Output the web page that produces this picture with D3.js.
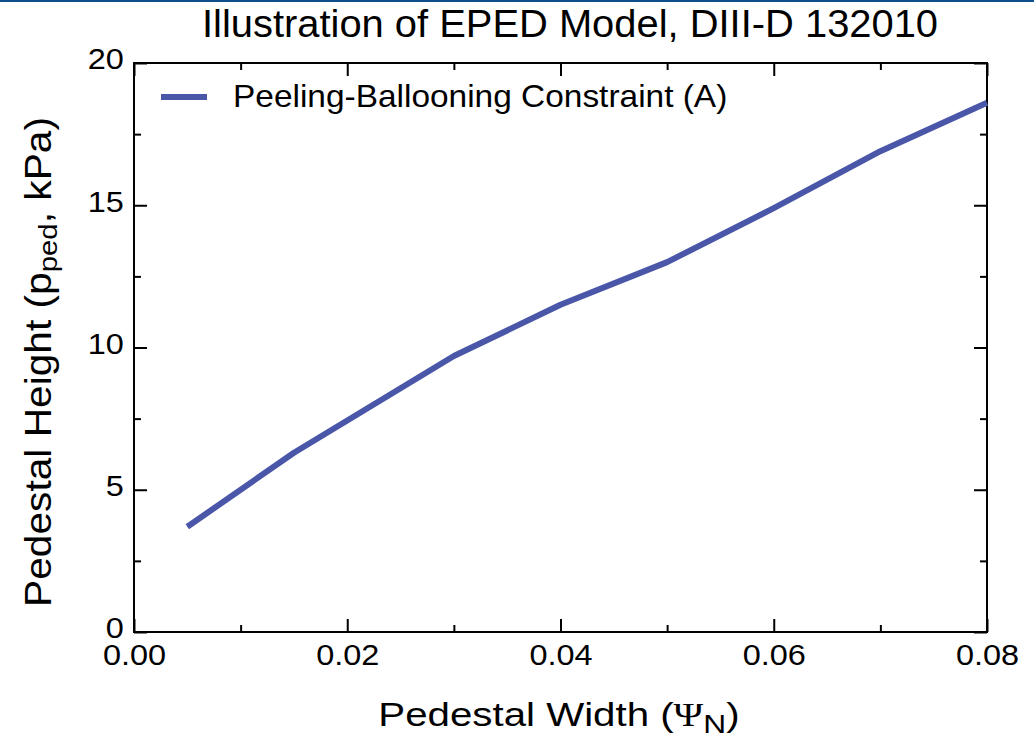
<!DOCTYPE html>
<html>
<head>
<meta charset="utf-8">
<script src="https://cdn.jsdelivr.net/npm/d3@7"></script>
<style>
  html, body { margin: 0; padding: 0; background: #fff; }
  svg { display: block; font-family: "Liberation Sans", Arial, Helvetica, sans-serif; }
</style>
</head>
<body>
<div id="chart"></div>
<script>
// pedestal width (psi_N) and peeling-ballooning pedestal height (kPa)
const widths = [0.005, 0.015, 0.03, 0.04, 0.05, 0.06, 0.07, 0.08];
const heights = [3.7, 6.3, 9.7, 11.5, 13.0, 14.9, 16.9, 18.6];
const xTicks = [0.00, 0.02, 0.04, 0.06, 0.08];
const xMinor = [0.01, 0.03, 0.05, 0.07];
const yTicks = [0, 5, 10, 15, 20];
const yMinor = [2.5, 7.5, 12.5, 17.5];
const seriesName = "Peeling-Ballooning Constraint (A)";

const W = 1034, H = 743;
const plotL = 134, plotR = 987, plotT = 63, plotB = 632;
const lineColor = "#4a57a8";

const svg = d3.select("#chart").append("svg")
  .attr("width", W)
  .attr("height", H);

// thin blue rule across the top of the slide
svg.append("rect")
  .attr("x", 0).attr("y", 0)
  .attr("width", W).attr("height", 2)
  .attr("fill", "#0d4f8b");

const x = d3.scaleLinear().domain([0, 0.08]).range([plotL, plotR]);
const y = d3.scaleLinear().domain([0, 20]).range([plotB, plotT]);

// frame
svg.append("rect")
  .attr("x", plotL).attr("y", plotT)
  .attr("width", plotR - plotL).attr("height", plotB - plotT)
  .attr("fill", "none")
  .attr("stroke", "#000")
  .attr("stroke-width", 2);

// the original fonts run a bit wide, so labels get a horizontal stretch
function styleAxis(g) {
  g.select(".domain").remove();
  g.selectAll(".tick line").attr("stroke", "#000").attr("stroke-width", 2);
  g.selectAll("text")
    .attr("font-family", null)
    .attr("font-size", 29)
    .attr("fill", "#000")
    .attr("transform", "scale(1.12,1)");
}

// bottom axis, ticks pointing in
svg.append("g")
  .attr("transform", `translate(0,${plotB})`)
  .call(d3.axisBottom(x).tickValues(xTicks).tickSize(-13).tickPadding(12).tickFormat(d3.format(".2f")))
  .call(styleAxis);
svg.append("g")
  .attr("transform", `translate(0,${plotB})`)
  .call(d3.axisBottom(x).tickValues(xMinor).tickSize(-7).tickFormat(""))
  .call(styleAxis);
// top mirror
svg.append("g")
  .attr("transform", `translate(0,${plotT})`)
  .call(d3.axisTop(x).tickValues(xTicks).tickSize(-13).tickFormat(""))
  .call(styleAxis);
svg.append("g")
  .attr("transform", `translate(0,${plotT})`)
  .call(d3.axisTop(x).tickValues(xMinor).tickSize(-7).tickFormat(""))
  .call(styleAxis);

// left axis
svg.append("g")
  .attr("transform", `translate(${plotL},0)`)
  .call(d3.axisLeft(y).tickValues(yTicks).tickSize(-13).tickPadding(9).tickFormat(d3.format("d")))
  .call(styleAxis)
  .call(g => g.selectAll("text").attr("dy", "0.2em"));
svg.append("g")
  .attr("transform", `translate(${plotL},0)`)
  .call(d3.axisLeft(y).tickValues(yMinor).tickSize(-7).tickFormat(""))
  .call(styleAxis);
// right mirror
svg.append("g")
  .attr("transform", `translate(${plotR},0)`)
  .call(d3.axisRight(y).tickValues(yTicks).tickSize(-13).tickFormat(""))
  .call(styleAxis);
svg.append("g")
  .attr("transform", `translate(${plotR},0)`)
  .call(d3.axisRight(y).tickValues(yMinor).tickSize(-7).tickFormat(""))
  .call(styleAxis);

// the constraint curve
const line = d3.line()
  .x((d, i) => x(widths[i]))
  .y(d => y(d));

svg.append("path")
  .datum(heights)
  .attr("fill", "none")
  .attr("stroke", lineColor)
  .attr("stroke-width", 6)
  .attr("stroke-linejoin", "round")
  .attr("d", line);

// legend
svg.append("line")
  .attr("x1", 161).attr("x2", 207)
  .attr("y1", 97).attr("y2", 97)
  .attr("stroke", lineColor)
  .attr("stroke-width", 6);
svg.append("text")
  .attr("transform", "translate(233,107) scale(1.045,1)")
  .attr("font-size", 32)
  .text(seriesName);

// title
svg.append("text")
  .attr("transform", "translate(570,37) scale(1.05,1)")
  .attr("text-anchor", "middle")
  .attr("font-size", 38)
  .text("Illustration of EPED Model, DIII-D 132010");

// x label
const xl = svg.append("text")
  .attr("transform", "translate(559,726) scale(1.22,1)")
  .attr("text-anchor", "middle")
  .attr("font-size", 33);
xl.append("tspan").text("Pedestal Width (");
xl.append("tspan").attr("font-family", "Liberation Serif").text("Ψ");
xl.append("tspan").attr("font-size", 26).attr("dy", 7).text("N");
xl.append("tspan").attr("dy", -7).text(")");

// y label
const yl = svg.append("text")
  .attr("transform", "translate(51,362) rotate(-90) scale(1.13,1)")
  .attr("text-anchor", "middle")
  .attr("font-size", 36);
yl.append("tspan").text("Pedestal Height (p");
yl.append("tspan").attr("font-size", 26).attr("dy", 6).text("ped");
yl.append("tspan").attr("dy", -6).text(", kPa)");
</script>
</body>
</html>
